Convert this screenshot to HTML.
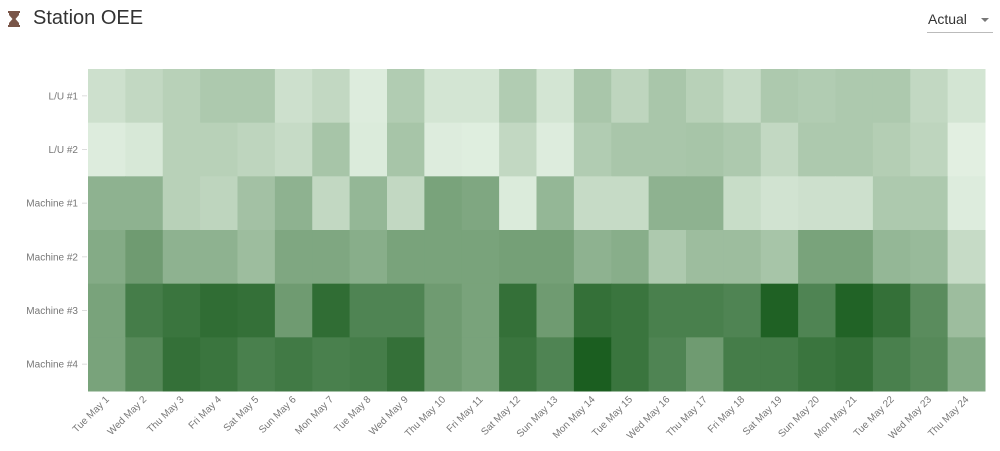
<!DOCTYPE html>
<html><head><meta charset="utf-8">
<style>
body{margin:0;width:1000px;height:451px;background:#fff;font-family:"Liberation Sans",sans-serif;overflow:hidden;position:relative}
#title{position:absolute;left:33px;top:7px;font-size:20px;color:#333}
#icon{position:absolute;left:8px;top:11px}
#sel{position:absolute;left:927px;top:10px;width:66px;height:22px;border-bottom:1px solid #bbb;font-size:14px;color:#333}
#sel span.a{position:absolute;left:1px;top:1px}
#sel span.c{position:absolute;right:4px;top:8px;width:0;height:0;border-left:4px solid transparent;border-right:4px solid transparent;border-top:4px solid #777}
</style></head><body>
<svg id="icon" width="12" height="16" viewBox="0 0 12 16"><path d="M0 0H12V2H11V4L7.5 8L11 12V14H12V16H0V14H1V12L4.5 8L1 4V2H0Z" fill="#795548"/></svg>
<div id="title">Station OEE</div>
<div id="sel"><span class="a">Actual</span><span class="c"></span></div>
<svg id="chart" width="1000" height="451" style="position:absolute;left:0;top:0"></svg>
<script>
const days=["Tue May 1","Wed May 2","Thu May 3","Fri May 4","Sat May 5","Sun May 6","Mon May 7","Tue May 8","Wed May 9","Thu May 10","Fri May 11","Sat May 12","Sun May 13","Mon May 14","Tue May 15","Wed May 16","Thu May 17","Fri May 18","Sat May 19","Sun May 20","Mon May 21","Tue May 22","Wed May 23","Thu May 24"];
const stations=["L/U #1","L/U #2","Machine #1","Machine #2","Machine #3","Machine #4"];
const lu1=[0.15,0.2,0.25,0.3,0.3,0.15,0.2,0.07,0.28,0.12,0.12,0.28,0.12,0.32,0.22,0.32,0.25,0.18,0.3,0.28,0.3,0.3,0.2,0.12];
const lu2=[0.07,0.1,0.25,0.25,0.22,0.18,0.33,0.08,0.33,0.07,0.06,0.2,0.07,0.28,0.32,0.32,0.33,0.3,0.2,0.3,0.3,0.27,0.22,0.05];
const m1=[0.45,0.45,0.25,0.22,0.35,0.45,0.2,0.42,0.2,0.55,0.52,0.08,0.42,0.18,0.18,0.45,0.45,0.17,0.13,0.15,0.15,0.3,0.3,0.07];
const m2=[0.5,0.6,0.45,0.45,0.38,0.52,0.52,0.48,0.55,0.55,0.55,0.57,0.57,0.45,0.48,0.3,0.38,0.38,0.33,0.55,0.55,0.42,0.4,0.18];
const m3=[0.55,0.8,0.85,0.9,0.88,0.6,0.9,0.75,0.75,0.6,0.55,0.88,0.6,0.88,0.85,0.78,0.78,0.75,0.98,0.75,0.97,0.88,0.7,0.38];
const m4=[0.55,0.72,0.88,0.85,0.78,0.82,0.78,0.8,0.88,0.6,0.55,0.85,0.75,1.0,0.85,0.75,0.6,0.8,0.8,0.85,0.88,0.78,0.72,0.5];
const values=[lu1,lu2,m1,m2,m3,m4];
const X0=88,X1=985,Y0=69,Y1=391;
const cw=(X1-X0)/days.length, ch=(Y1-Y0)/stations.length;
const xS=i=>X0+i*cw, yS=j=>Y0+j*ch;
function col(v){const a=[236,247,235],b=[27,94,32];return "rgb("+a.map((c,k)=>Math.round(c+(b[k]-c)*v)).join(",")+")";}
const svg=document.getElementById('chart');const NS="http://www.w3.org/2000/svg";
function mk(t,at){const e=document.createElementNS(NS,t);for(const k in at)e.setAttribute(k,at[k]);svg.appendChild(e);return e;}
values.forEach((row,j)=>row.forEach((v,i)=>{
 const r=mk('rect',{x:xS(i),y:yS(j),width:cw+0.5,height:ch+0.5,fill:col(v)});
 
 
}));
stations.forEach((s,j)=>{
 const y=yS(j)+ch/2;
 mk('line',{x1:82,x2:87,y1:y,y2:y,stroke:'#ddd'});
 const t=mk('text',{x:78,y:y+3.5,'text-anchor':'end','font-size':'10','fill':'#777','font-family':'Liberation Sans, sans-serif'});
 t.textContent=s;
 
 
});
days.forEach((d,i)=>{
 const x=xS(i)+cw/2;
 const t=mk('text',{x:x+3,y:400,'text-anchor':'end','font-size':'10','fill':'#777','font-family':'Liberation Sans, sans-serif',transform:'rotate(-45 '+(x+3)+' 400)'});
 t.textContent=d;
 
 
});
</script>
</body></html>
